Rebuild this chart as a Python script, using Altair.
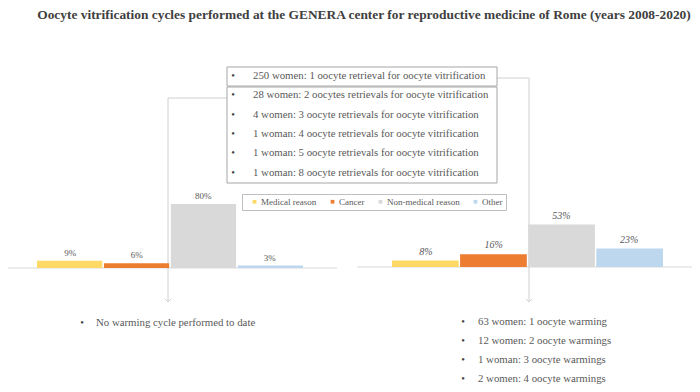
import altair as alt
import pandas as pd

# ---------------- data ----------------
title_text = "Oocyte vitrification cycles performed at the GENERA center for reproductive medicine of Rome (years 2008-2020)"
categories = ["Medical reason", "Cancer", "Non-medical reason", "Other"]
colors = ["#FFD966", "#ED7D31", "#D9D9D9", "#BDD7EE"]
left_values = [9, 6, 80, 3]
right_values = [8, 16, 53, 23]
box_lines = [
    "250 women: 1 oocyte retrieval for oocyte vitrification",
    "28 women: 2 oocytes retrievals for oocyte vitrification",
    "4 women: 3 oocyte retrievals for oocyte vitrification",
    "1 woman: 4 oocyte retrievals for oocyte vitrification",
    "1 woman: 5 oocyte retrievals for oocyte vitrification",
    "1 woman: 8 oocyte retrievals for oocyte vitrification",
]
bottom_left = ["No warming cycle performed to date"]
bottom_right = [
    "63 women: 1 oocyte warming",
    "12 women: 2 oocyte warmings",
    "1 woman: 3 oocyte warmings",
    "2 women: 4 oocyte warmings",
]

FONT = "Liberation Serif"
TXT = "#595959"
LINE = "#D0D0D0"

left_df = pd.DataFrame({"cat": categories, "val": left_values,
                        "lab": [f"{v}%" for v in left_values]})
right_df = pd.DataFrame({"cat": categories, "val": right_values,
                         "lab": [f"{v}%" for v in right_values]})
box_df = pd.DataFrame({"i": list(range(len(box_lines))), "t": box_lines})
bl_df = pd.DataFrame({"i": list(range(len(bottom_left))), "t": bottom_left})
br_df = pd.DataFrame({"i": list(range(len(bottom_right))), "t": bottom_right})
one = pd.DataFrame({"a": [0]})

color_enc = alt.Color(
    "cat:N",
    scale=alt.Scale(domain=categories, range=colors),
    sort=categories,
    legend=alt.Legend(
        orient="none", legendX=234, legendY=186, direction="horizontal",
        title=None, strokeColor="#BFBFBF", fillColor="white", padding=3,
        symbolType="square", symbolSize=14, symbolStrokeWidth=0,
        labelFont=FONT, labelFontSize=9, labelColor=TXT,
        columnPadding=6, symbolOffset=5, labelOffset=2,
    ),
)

def rule(x, y, x2=None, y2=None, color=LINE):
    enc = {"x": alt.value(x), "y": alt.value(y)}
    if x2 is not None:
        enc["x2"] = alt.value(x2)
    if y2 is not None:
        enc["y2"] = alt.value(y2)
    return alt.Chart(one).mark_rule(color=color, strokeWidth=1).encode(**enc)

layers = []

# baselines
layers.append(rule(-5, 260, x2=329, color="#D9D9D9"))
layers.append(rule(349, 259, x2=689, color="#D9D9D9"))

# connectors
layers.append(rule(160, 90, x2=219))
layers.append(rule(160, 90, y2=293))
layers.append(rule(489, 70, x2=521))
layers.append(rule(521, 70, y2=293))
arrow = "M-1,-1L0,0L1,-1"
for ax in (160, 521):
    layers.append(alt.Chart(one).mark_point(shape=arrow, filled=False, stroke="#BFBFBF",
                                            strokeWidth=1, size=40)
                  .encode(x=alt.value(ax), y=alt.value(294)))

# left bars
lx = alt.X("cat:N", sort=categories, axis=None,
           scale=alt.Scale(domain=categories, range=[29, 295], paddingInner=0.025, paddingOuter=0))
ly = alt.Y("val:Q", axis=None, scale=alt.Scale(domain=[0, 100], range=[260, 180]))
layers.append(alt.Chart(left_df).mark_bar().encode(x=lx, y=ly, color=color_enc))
layers.append(alt.Chart(left_df).mark_text(font=FONT, fontSize=9, color=TXT, baseline="bottom", dy=-3)
              .encode(x=lx, y=ly, text="lab:N"))

# right bars
rx = alt.X("cat:N", sort=categories, axis=None,
           scale=alt.Scale(domain=categories, range=[384, 655], paddingInner=0.02, paddingOuter=0))
ry = alt.Y("val:Q", axis=None, scale=alt.Scale(domain=[0, 100], range=[259, 179]))
layers.append(alt.Chart(right_df).mark_bar().encode(x=rx, y=ry, color=color_enc))
layers.append(alt.Chart(right_df).mark_text(font=FONT, fontSize=10, fontStyle="italic", color=TXT,
                                            baseline="bottom", dy=-4)
              .encode(x=rx, y=ry, text="lab:N"))

# boxes
layers.append(alt.Chart(one).mark_rect(fill="white", stroke="#A6A6A6", strokeWidth=1)
              .encode(x=alt.value(219), x2=alt.value(489), y=alt.value(59), y2=alt.value(78)))
layers.append(alt.Chart(one).mark_rect(fill="white", stroke="#A6A6A6", strokeWidth=1)
              .encode(x=alt.value(219), x2=alt.value(489), y=alt.value(79), y2=alt.value(175)))

def text_list(df, bullet_x, text_x, y0, y1, n):
    yy = alt.Y("i:Q", axis=None, scale=alt.Scale(domain=[0, n - 1], range=[y0, y1]))
    b = alt.Chart(df).mark_text(font=FONT, fontSize=10.5, color="#404040", align="center",
                                baseline="middle").encode(x=alt.value(bullet_x), y=yy, text=alt.value("•"))
    t = alt.Chart(df).mark_text(font=FONT, fontSize=10.8, color=TXT, align="left",
                                baseline="middle").encode(x=alt.value(text_x), y=yy, text="t:N")
    return [b, t]

layers += text_list(box_df, 225, 245, 68, 164.5, 6)
layers += text_list(bl_df, 74, 88, 315, 372, 4)
layers += text_list(br_df, 455, 470, 314, 371, 4)

# title
layers.append(alt.Chart(one).mark_text(font=FONT, fontSize=13.4, fontWeight="bold", color="#404040",
                                       align="center", baseline="middle", text=title_text)
              .encode(x=alt.value(356), y=alt.value(7)))

chart = (
    alt.layer(*layers)
    .resolve_scale(x="independent", y="independent")
    .properties(width=684, height=376, autosize=alt.AutoSizeParams(type="none"), padding=0)
    .configure_view(stroke=None)
)

chart.save("out.html", embed_options={"renderer": "svg", "actions": False})
